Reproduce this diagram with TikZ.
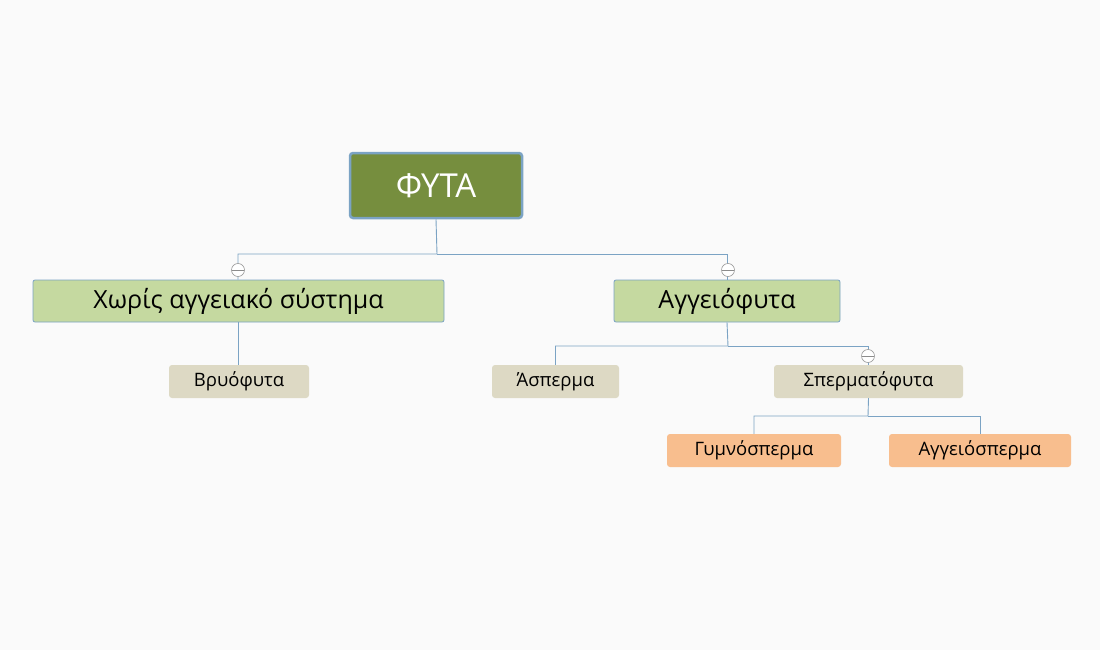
\documentclass[tikz,border=0pt]{standalone}
\usepackage{fontspec}
\setmainfont{Open Sans}
\begin{document}
\begin{tikzpicture}[x=1pt,y=-1pt,
  conn/.style={draw=linec,line width=0.9pt},
  rootbox/.style={draw=linec,line width=2.5pt,fill=rootc,rounded corners=3pt,text=white,font=\fontsize{33}{36}\selectfont,minimum width=172pt,minimum height=65pt,inner sep=0pt},
  lvlone/.style={draw=linec,line width=0.8pt,fill=greenc,rounded corners=2pt,font=\fontsize{25}{28}\selectfont,minimum height=42pt,inner sep=0pt},
  lvltwo/.style={fill=tanc,rounded corners=3pt,font=\fontsize{18.5}{21}\selectfont,minimum height=33pt,inner sep=0pt},
  lvlthree/.style={fill=orc,rounded corners=3pt,font=\fontsize{18.5}{21}\selectfont,minimum height=33pt,inner sep=0pt},
  tog/.style={circle,draw=gray!80,fill=white,line width=0.6pt,minimum size=13pt,inner sep=0pt,path picture={\draw[gray!90,line width=0.7pt](path picture bounding box.west)--(path picture bounding box.east);}}]
\definecolor{linec}{RGB}{123,163,196}
\definecolor{rootc}{RGB}{118,142,62}
\definecolor{greenc}{RGB}{197,217,160}
\definecolor{tanc}{RGB}{221,217,196}
\definecolor{orc}{RGB}{248,190,142}
\fill[white!98!black] (0,0) rectangle (1100,650);
\useasboundingbox (0,0) rectangle (1100,650);
\node[rootbox] (root) at (436,185.5) {ΦΥΤΑ};
\node[lvlone,minimum width=411pt] (xor) at (238.5,301) {Χωρίς αγγειακό σύστημα};
\node[lvlone,minimum width=226pt] (agg) at (727,301) {Αγγειόφυτα};
\node[lvltwo,minimum width=140pt] (bry) at (239,381.5) {Βρυόφυτα};
\node[lvltwo,minimum width=127pt] (asp) at (555.5,381.5) {Άσπερμα};
\node[lvltwo,minimum width=189pt] (spe) at (868.5,381.5) {Σπερματόφυτα};
\node[lvlthree,minimum width=174pt] (gym) at (754,450.5) {Γυμνόσπερμα};
\node[lvlthree,minimum width=182pt] (ang) at (980,450.5) {Αγγειόσπερμα};
\coordinate (j1) at (437,254);
\coordinate (j2) at (728,346);
\coordinate (j3) at (868,416);
\draw[conn] (root.south) -- (j1) -| (xor.north -| 238,0);
\draw[conn] (j1) -| (agg.north);
\draw[conn] (xor.south -| 238,0) -- (bry.north -| 238,0);
\draw[conn] (agg.south) -- (j2) -| (asp.north);
\draw[conn] (j2) -| (spe.north);
\draw[conn] (spe.south) -- (j3) -| (gym.north);
\draw[conn] (j3) -| (ang.north);
\node[tog] (t1) at (238,270) {};
\node[tog] (t2) at (728,270) {};
\node[tog] (t3) at (868,356) {};
\end{tikzpicture}
\end{document}
